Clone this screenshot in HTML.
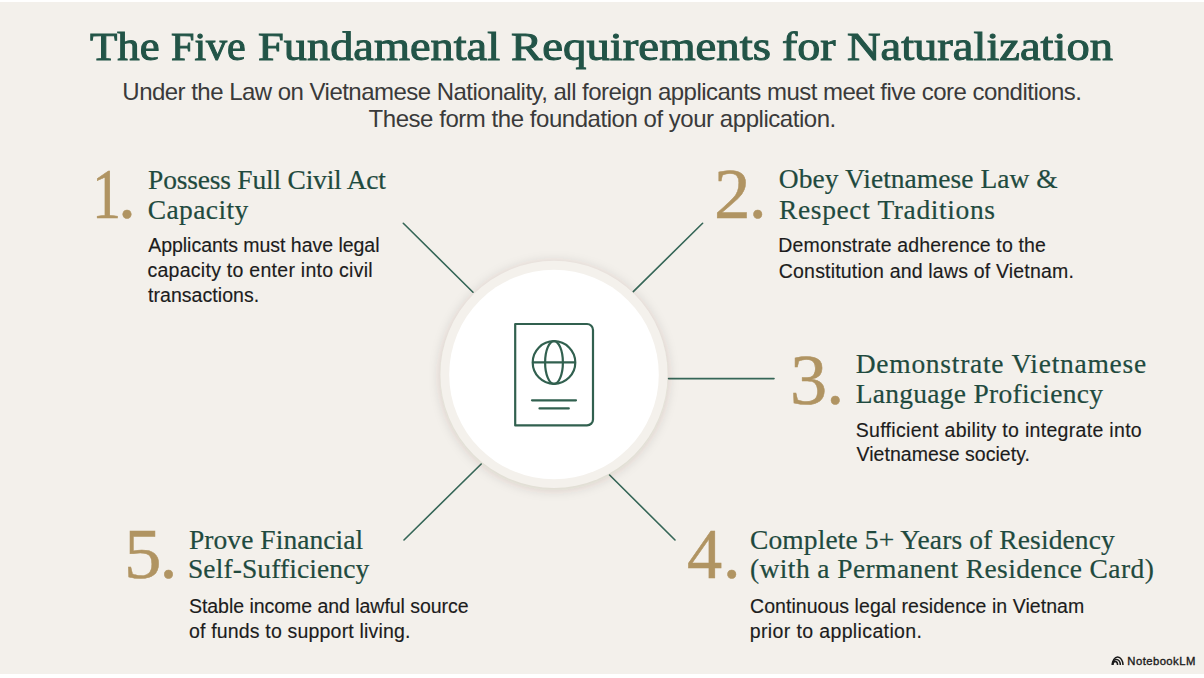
<!DOCTYPE html>
<html><head><meta charset="utf-8"><title>The Five Fundamental Requirements for Naturalization</title>
<style>
html,body{margin:0;padding:0;}
body{width:1204px;height:678px;overflow:hidden;position:relative;background:#ffffff;}
#bg{position:absolute;left:0;top:2px;width:1204px;height:672px;background:#f3f0eb;}
.t{position:absolute;white-space:nowrap;}
</style></head><body>
<div id="bg"></div>
<svg width="1204" height="678" viewBox="0 0 1204 678" style="position:absolute;left:0;top:0">
<defs>
<filter id="sh" x="-30%" y="-30%" width="160%" height="160%"><feGaussianBlur stdDeviation="5.5"/></filter>
</defs>
<g stroke="#356657" stroke-width="1.6" stroke-linecap="round">
<line x1="403.3" y1="223.3" x2="473" y2="292.2"/>
<line x1="702.6" y1="223.3" x2="633.3" y2="291.6"/>
<line x1="668.5" y1="378.6" x2="774" y2="378.6"/>
<line x1="481.2" y1="464" x2="404" y2="540"/>
<line x1="609.6" y1="475" x2="675" y2="540"/>
</g>
<circle cx="554" cy="376" r="114.5" fill="rgba(60,50,30,0.15)" filter="url(#sh)"/>
<circle cx="554" cy="374.4" r="113.6" fill="#f4f1ec"/>
<circle cx="554" cy="374.5" r="104.8" fill="#ffffff"/>
<g fill="none" stroke="#31604f" stroke-width="2.2" stroke-linecap="round" stroke-linejoin="round">
<path d="M515.2 324 H587 A6 6 0 0 1 593 330 V419.4 A6 6 0 0 1 587 425.4 H515.2 Z"/>
<circle cx="554" cy="362.5" r="21.3"/>
<ellipse cx="554" cy="362.5" rx="8.9" ry="21.3"/>
<line x1="533" y1="362.3" x2="575" y2="362.3"/>
<line x1="532" y1="400.3" x2="576" y2="400.3"/>
<line x1="539.5" y1="408.4" x2="568.8" y2="408.4"/>
</g>
<g fill="none" stroke="#1a1a1a" stroke-width="1.5">
<path d="M1112.3 665 A5.35 8 0 0 1 1123 665"/>
<path d="M1112.5 665 A3.9 5.6 0 0 1 1120.3 665"/>
<path d="M1112.8 665 A2.4 3.4 0 0 1 1117.6 665"/>
</g>
</svg>
<div class="t" style="left:90.25px;top:5px;font-family:'Liberation Serif',serif;font-size:41px;font-weight:400;letter-spacing:0.0px;line-height:82px;color:#225447;transform:scaleX(1.0919);transform-origin:0 0;-webkit-text-stroke:1.0px #225447;">The</div>
<div class="t" style="left:171.37px;top:5px;font-family:'Liberation Serif',serif;font-size:41px;font-weight:400;letter-spacing:0.0px;line-height:82px;color:#225447;transform:scaleX(1.0255);transform-origin:0 0;-webkit-text-stroke:1.0px #225447;">Five</div>
<div class="t" style="left:257.57px;top:5px;font-family:'Liberation Serif',serif;font-size:41px;font-weight:400;letter-spacing:0.0px;line-height:82px;color:#225447;transform:scaleX(1.1307);transform-origin:0 0;-webkit-text-stroke:1.0px #225447;">Fundamental</div>
<div class="t" style="left:511.26px;top:5px;font-family:'Liberation Serif',serif;font-size:41px;font-weight:400;letter-spacing:0.0px;line-height:82px;color:#225447;transform:scaleX(1.1414);transform-origin:0 0;-webkit-text-stroke:1.0px #225447;">Requirements</div>
<div class="t" style="left:781.5px;top:5px;font-family:'Liberation Serif',serif;font-size:41px;font-weight:400;letter-spacing:0.0px;line-height:82px;color:#225447;transform:scaleX(1.1222);transform-origin:0 0;-webkit-text-stroke:1.0px #225447;">for</div>
<div class="t" style="left:846.87px;top:5px;font-family:'Liberation Serif',serif;font-size:41px;font-weight:400;letter-spacing:0.0px;line-height:82px;color:#225447;transform:scaleX(1.1339);transform-origin:0 0;-webkit-text-stroke:1.0px #225447;">Naturalization</div>
<div class="t" style="left:122.35px;top:68px;font-family:'Liberation Sans',sans-serif;font-size:24px;font-weight:400;letter-spacing:-0.525px;line-height:48px;color:#3a3a3a;">Under the Law on Vietnamese Nationality, all foreign applicants must meet five core conditions.</div>
<div class="t" style="left:368.6px;top:95px;font-family:'Liberation Sans',sans-serif;font-size:24px;font-weight:400;letter-spacing:-0.459px;line-height:48px;color:#3a3a3a;">These form the foundation of your application.</div>
<div class="t" style="left:91.95px;top:122px;font-family:'Liberation Serif',serif;font-size:72px;font-weight:400;letter-spacing:0.0px;line-height:144px;color:#b09462;transform:scaleX(0.8078);transform-origin:0 0;-webkit-text-stroke:0.5px #b09462;">1</div>
<div class="t" style="left:117.95px;top:122px;font-family:'Liberation Serif',serif;font-size:72px;font-weight:400;letter-spacing:0.0px;line-height:144px;color:#b09462;-webkit-text-stroke:0.5px #b09462;">.</div>
<div class="t" style="left:713.55px;top:122px;font-family:'Liberation Serif',serif;font-size:72px;font-weight:400;letter-spacing:0.0px;line-height:144px;color:#b09462;transform:scaleX(1.0154);transform-origin:0 0;-webkit-text-stroke:0.5px #b09462;">2</div>
<div class="t" style="left:748.65px;top:122px;font-family:'Liberation Serif',serif;font-size:72px;font-weight:400;letter-spacing:0.0px;line-height:144px;color:#b09462;-webkit-text-stroke:0.5px #b09462;">.</div>
<div class="t" style="left:789.64px;top:308px;font-family:'Liberation Serif',serif;font-size:72px;font-weight:400;letter-spacing:0.0px;line-height:144px;color:#b09462;transform:scaleX(1.0333);transform-origin:0 0;-webkit-text-stroke:0.5px #b09462;">3</div>
<div class="t" style="left:826.25px;top:308px;font-family:'Liberation Serif',serif;font-size:72px;font-weight:400;letter-spacing:0.0px;line-height:144px;color:#b09462;-webkit-text-stroke:0.5px #b09462;">.</div>
<div class="t" style="left:687.38px;top:482px;font-family:'Liberation Serif',serif;font-size:72px;font-weight:400;letter-spacing:0.0px;line-height:144px;color:#b09462;transform:scaleX(0.9778);transform-origin:0 0;-webkit-text-stroke:0.5px #b09462;">4</div>
<div class="t" style="left:722.85px;top:482px;font-family:'Liberation Serif',serif;font-size:72px;font-weight:400;letter-spacing:0.0px;line-height:144px;color:#b09462;-webkit-text-stroke:0.5px #b09462;">.</div>
<div class="t" style="left:123.83px;top:482px;font-family:'Liberation Serif',serif;font-size:72px;font-weight:400;letter-spacing:0.0px;line-height:144px;color:#b09462;transform:scaleX(1.0427);transform-origin:0 0;-webkit-text-stroke:0.5px #b09462;">5</div>
<div class="t" style="left:159.45px;top:482px;font-family:'Liberation Serif',serif;font-size:72px;font-weight:400;letter-spacing:0.0px;line-height:144px;color:#b09462;-webkit-text-stroke:0.5px #b09462;">.</div>
<div class="t" style="left:148.05px;top:152px;font-family:'Liberation Serif',serif;font-size:27.5px;font-weight:400;letter-spacing:-0.205px;line-height:55.0px;color:#1f4a3e;-webkit-text-stroke:0.2px #1f4a3e;">Possess Full Civil Act</div>
<div class="t" style="left:147.8px;top:182px;font-family:'Liberation Serif',serif;font-size:27.5px;font-weight:400;letter-spacing:0.379px;line-height:55.0px;color:#1f4a3e;-webkit-text-stroke:0.2px #1f4a3e;">Capacity</div>
<div class="t" style="left:778.8px;top:151px;font-family:'Liberation Serif',serif;font-size:27.5px;font-weight:400;letter-spacing:0.043px;line-height:55.0px;color:#1f4a3e;-webkit-text-stroke:0.2px #1f4a3e;">Obey Vietnamese Law &amp;</div>
<div class="t" style="left:779.05px;top:182px;font-family:'Liberation Serif',serif;font-size:27.5px;font-weight:400;letter-spacing:0.615px;line-height:55.0px;color:#1f4a3e;-webkit-text-stroke:0.2px #1f4a3e;">Respect Traditions</div>
<div class="t" style="left:855.75px;top:336px;font-family:'Liberation Serif',serif;font-size:27.5px;font-weight:400;letter-spacing:0.729px;line-height:55.0px;color:#1f4a3e;-webkit-text-stroke:0.2px #1f4a3e;">Demonstrate Vietnamese</div>
<div class="t" style="left:855.75px;top:366px;font-family:'Liberation Serif',serif;font-size:27.5px;font-weight:400;letter-spacing:0.271px;line-height:55.0px;color:#1f4a3e;-webkit-text-stroke:0.2px #1f4a3e;">Language Proficiency</div>
<div class="t" style="left:750.0px;top:512px;font-family:'Liberation Serif',serif;font-size:27.5px;font-weight:400;letter-spacing:0.114px;line-height:55.0px;color:#1f4a3e;-webkit-text-stroke:0.2px #1f4a3e;">Complete 5+ Years of Residency</div>
<div class="t" style="left:750.0px;top:541px;font-family:'Liberation Serif',serif;font-size:27.5px;font-weight:400;letter-spacing:0.402px;line-height:55.0px;color:#1f4a3e;-webkit-text-stroke:0.2px #1f4a3e;">(with a Permanent Residence Card)</div>
<div class="t" style="left:188.95px;top:512px;font-family:'Liberation Serif',serif;font-size:27.5px;font-weight:400;letter-spacing:0.061px;line-height:55.0px;color:#1f4a3e;-webkit-text-stroke:0.2px #1f4a3e;">Prove Financial</div>
<div class="t" style="left:187.95px;top:541px;font-family:'Liberation Serif',serif;font-size:27.5px;font-weight:400;letter-spacing:0.107px;line-height:55.0px;color:#1f4a3e;-webkit-text-stroke:0.2px #1f4a3e;">Self-Sufficiency</div>
<div class="t" style="left:148.2px;top:226px;font-family:'Liberation Sans',sans-serif;font-size:19.5px;font-weight:400;letter-spacing:-0.026px;line-height:39.0px;color:#1c1c1c;-webkit-text-stroke:0.15px #1c1c1c;">Applicants must have legal</div>
<div class="t" style="left:147.45px;top:251px;font-family:'Liberation Sans',sans-serif;font-size:19.5px;font-weight:400;letter-spacing:0.274px;line-height:39.0px;color:#1c1c1c;-webkit-text-stroke:0.15px #1c1c1c;">capacity to enter into civil</div>
<div class="t" style="left:147.95px;top:276px;font-family:'Liberation Sans',sans-serif;font-size:19.5px;font-weight:400;letter-spacing:0.062px;line-height:39.0px;color:#1c1c1c;-webkit-text-stroke:0.15px #1c1c1c;">transactions.</div>
<div class="t" style="left:778.3px;top:226px;font-family:'Liberation Sans',sans-serif;font-size:19.5px;font-weight:400;letter-spacing:0.157px;line-height:39.0px;color:#1c1c1c;-webkit-text-stroke:0.15px #1c1c1c;">Demonstrate adherence to the</div>
<div class="t" style="left:778.8px;top:252px;font-family:'Liberation Sans',sans-serif;font-size:19.5px;font-weight:400;letter-spacing:0.188px;line-height:39.0px;color:#1c1c1c;-webkit-text-stroke:0.15px #1c1c1c;">Constitution and laws of Vietnam.</div>
<div class="t" style="left:855.75px;top:411px;font-family:'Liberation Sans',sans-serif;font-size:19.5px;font-weight:400;letter-spacing:0.314px;line-height:39.0px;color:#1c1c1c;-webkit-text-stroke:0.15px #1c1c1c;">Sufficient ability to integrate into</div>
<div class="t" style="left:856.5px;top:435px;font-family:'Liberation Sans',sans-serif;font-size:19.5px;font-weight:400;letter-spacing:0.039px;line-height:39.0px;color:#1c1c1c;-webkit-text-stroke:0.15px #1c1c1c;">Vietnamese society.</div>
<div class="t" style="left:750.0px;top:587px;font-family:'Liberation Sans',sans-serif;font-size:19.5px;font-weight:400;letter-spacing:0.049px;line-height:39.0px;color:#1c1c1c;-webkit-text-stroke:0.15px #1c1c1c;">Continuous legal residence in Vietnam</div>
<div class="t" style="left:749.75px;top:612px;font-family:'Liberation Sans',sans-serif;font-size:19.5px;font-weight:400;letter-spacing:0.373px;line-height:39.0px;color:#1c1c1c;-webkit-text-stroke:0.15px #1c1c1c;">prior to application.</div>
<div class="t" style="left:188.95px;top:587px;font-family:'Liberation Sans',sans-serif;font-size:19.5px;font-weight:400;letter-spacing:-0.035px;line-height:39.0px;color:#1c1c1c;-webkit-text-stroke:0.15px #1c1c1c;">Stable income and lawful source</div>
<div class="t" style="left:188.95px;top:612px;font-family:'Liberation Sans',sans-serif;font-size:19.5px;font-weight:400;letter-spacing:0.181px;line-height:39.0px;color:#1c1c1c;-webkit-text-stroke:0.15px #1c1c1c;">of funds to support living.</div>
<div class="t" style="left:1127.35px;top:650px;font-family:'Liberation Sans',sans-serif;font-size:11.3px;font-weight:400;letter-spacing:0.433px;line-height:22.6px;color:#1a1a1a;-webkit-text-stroke:0.35px #1a1a1a;">NotebookLM</div>
</body></html>
